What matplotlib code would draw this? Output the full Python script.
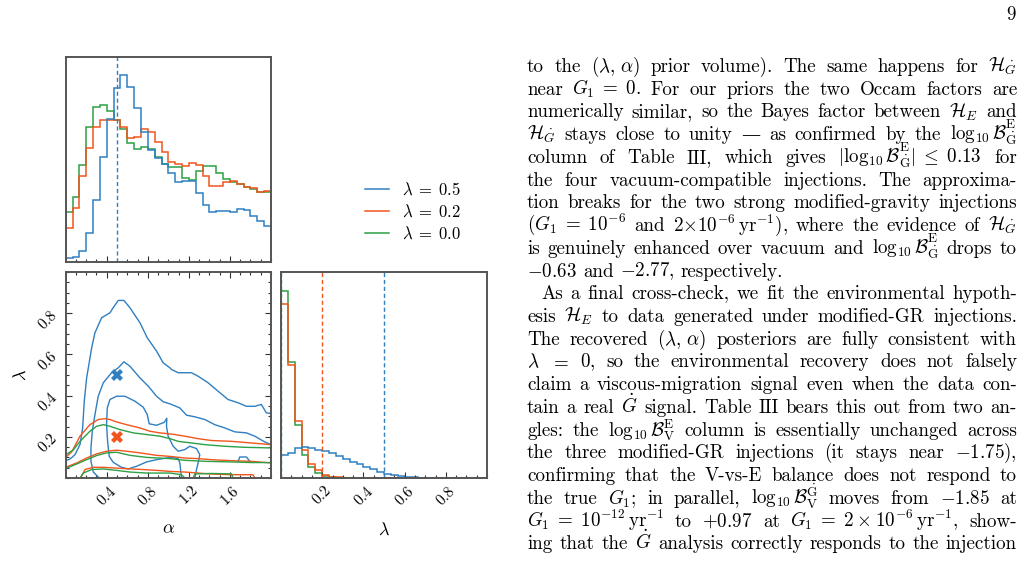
import numpy as np
import matplotlib
matplotlib.use("Agg")
import matplotlib.pyplot as plt
from matplotlib.ticker import FixedLocator, MultipleLocator, NullLocator
from matplotlib.lines import Line2D

plt.rcParams['mathtext.fontset'] = 'cm'
plt.rcParams['font.family'] = ['cmr10', 'DejaVu Serif']
plt.rcParams['axes.formatter.use_mathtext'] = True
plt.rcParams['axes.unicode_minus'] = False

# ---------------- data ----------------
series_labels = [r'$\lambda\;=\;0.5$', r'$\lambda\;=\;0.2$', r'$\lambda\;=\;0.0$']
series_colors = ['#2f7fc1', '#f0561d', '#2ca045']
true_alpha = [0.5, 0.5, 0.5]
true_lambda = [0.5, 0.2, 0.0]

alpha_range = (0.0, 2.0)
lambda_range = (0.0, 1.0)

alpha_hist_blue = [11, 14, 34, 86, 186, 314, 429, 520, 559, 523, 461, 388, 335, 310, 294,
                   266, 239, 244, 244, 208, 170, 151, 153, 153, 151, 160, 156, 139, 123, 108]
alpha_hist_orange = [103, 161, 258, 341, 403, 426, 424, 424, 403, 371, 373, 398, 390, 358, 328,
                     301, 294, 288, 296, 291, 258, 228, 228, 241, 244, 234, 226, 221, 209, 213]
alpha_hist_green = [151, 194, 291, 403, 464, 471, 451, 424, 397, 355, 339, 345, 337, 314, 294,
                    286, 284, 251, 246, 274, 289, 288, 266, 249, 241, 233, 224, 219, 211, 211]

lambda_hist_blue = [68, 74, 91, 93, 89, 85, 80, 75, 66, 58, 48, 41, 33, 26, 18,
                    13, 10, 6, 4, 2, 1, 1, 0, 0, 0, 0, 0, 0, 0, 0]
lambda_hist_orange = [520, 338, 171, 85, 42, 23, 8, 4, 2, 1, 0, 0, 0, 0, 0,
                      0, 0, 0, 0, 0, 0, 0, 0, 0, 0, 0, 0, 0, 0, 0]
lambda_hist_green = [560, 348, 158, 70, 33, 16, 5, 2, 1, 0, 0, 0, 0, 0, 0,
                     0, 0, 0, 0, 0, 0, 0, 0, 0, 0, 0, 0, 0, 0, 0]

alpha_ticks = [0.4, 0.8, 1.2, 1.6]
lambda_ticks = [0.2, 0.4, 0.6, 0.8]

# 2D contour lines (alpha, lambda)
blue_contours = [
    [(0.0, 0.084), (0.042, 0.092), (0.09, 0.113), (0.139, 0.162), (0.165, 0.243), (0.181, 0.373),
     (0.204, 0.486), (0.253, 0.632), (0.285, 0.705), (0.35, 0.778), (0.431, 0.802), (0.463, 0.827),
     (0.512, 0.862), (0.567, 0.862), (0.625, 0.827), (0.723, 0.754), (0.794, 0.681), (0.885, 0.616),
     (0.95, 0.559), (1.015, 0.535), (1.03, 0.527), (1.096, 0.511), (1.225, 0.511), (1.29, 0.494),
     (1.388, 0.462), (1.485, 0.421), (1.582, 0.381), (1.68, 0.365), (1.761, 0.348), (1.842, 0.348),
     (1.906, 0.357), (1.955, 0.316), (2.0, 0.313)],
    [(0.327, 0.0), (0.269, 0.029), (0.246, 0.081), (0.246, 0.146), (0.259, 0.227), (0.285, 0.308),
     (0.317, 0.397), (0.366, 0.462), (0.447, 0.511), (0.512, 0.535), (0.567, 0.564), (0.625, 0.543),
     (0.723, 0.486), (0.804, 0.446), (0.885, 0.397), (0.95, 0.37), (1.015, 0.36), (1.031, 0.357),
     (1.112, 0.34), (1.177, 0.305), (1.258, 0.297), (1.355, 0.284), (1.452, 0.259), (1.55, 0.243),
     (1.647, 0.224), (1.761, 0.219), (1.842, 0.203), (1.939, 0.175), (2.0, 0.162)],
    [(1.128, 0.0), (1.112, 0.073), (1.096, 0.094), (1.031, 0.1), (0.982, 0.097), (0.885, 0.089),
     (0.788, 0.078), (0.69, 0.057), (0.609, 0.044), (0.544, 0.052), (0.463, 0.076), (0.424, 0.105),
     (0.408, 0.178), (0.398, 0.259), (0.405, 0.34), (0.431, 0.381), (0.496, 0.397), (0.577, 0.397),
     (0.674, 0.373), (0.755, 0.344), (0.794, 0.308), (0.814, 0.263), (0.885, 0.256), (0.96, 0.27),
     (0.985, 0.29), (0.982, 0.251), (0.998, 0.203), (1.047, 0.154), (1.096, 0.13), (1.16, 0.138),
     (1.209, 0.154), (1.274, 0.143), (1.306, 0.113), (1.29, 0.073), (1.274, 0.041), (1.258, 0.0)],
    [(1.68, 0.081), (1.696, 0.102), (1.761, 0.102), (1.793, 0.081)],
]
orange_contours = [
    [(0.0, 0.10), (0.06, 0.128), (0.139, 0.203), (0.236, 0.259), (0.318, 0.284), (0.382, 0.288),
     (0.431, 0.284), (0.496, 0.272), (0.593, 0.259), (0.723, 0.243), (0.82, 0.227), (0.917, 0.219),
     (1.015, 0.214), (1.063, 0.211), (1.16, 0.203), (1.29, 0.191), (1.42, 0.182), (1.615, 0.178),
     (1.81, 0.17), (2.0, 0.162)],
    [(0.0, 0.052), (0.107, 0.073), (0.204, 0.097), (0.301, 0.117), (0.399, 0.13), (0.496, 0.135),
     (0.593, 0.13), (0.723, 0.122), (0.885, 0.11), (1.015, 0.105), (1.16, 0.097), (1.29, 0.094),
     (1.42, 0.089), (1.615, 0.084), (1.81, 0.081), (2.0, 0.073)],
    [(0.146, 0.0), (0.188, 0.041), (0.269, 0.052), (0.366, 0.052), (0.463, 0.049), (0.593, 0.045),
     (0.755, 0.041), (0.917, 0.036), (1.015, 0.032), (1.16, 0.029), (1.29, 0.024), (1.42, 0.019),
     (1.615, 0.016), (1.825, 0.016), (1.842, 0.0)],
]
green_contours = [
    [(0.0, 0.113), (0.074, 0.136), (0.139, 0.178), (0.236, 0.227), (0.301, 0.251), (0.366, 0.259),
     (0.431, 0.251), (0.528, 0.235), (0.658, 0.219), (0.788, 0.211), (0.917, 0.203), (1.015, 0.191),
     (1.096, 0.178), (1.225, 0.17), (1.355, 0.162), (1.549, 0.154), (1.744, 0.149), (2.0, 0.146)],
    [(0.0, 0.046), (0.107, 0.068), (0.204, 0.089), (0.301, 0.109), (0.399, 0.122), (0.496, 0.125),
     (0.625, 0.11), (0.788, 0.1), (1.015, 0.094), (1.16, 0.086), (1.355, 0.081), (1.615, 0.078),
     (1.81, 0.075), (2.0, 0.075)],
    [(0.139, 0.0), (0.172, 0.024), (0.253, 0.041), (0.366, 0.044), (0.496, 0.037), (0.625, 0.029),
     (0.788, 0.024), (1.015, 0.024), (1.128, 0.016), (1.16, 0.0)],
    [(1.242, 0.0), (1.258, 0.02), (1.42, 0.022), (1.615, 0.02), (1.63, 0.0)],
]

page_number = "9"
body_lines = [
    r"to the $(\lambda,\,\alpha)$ prior volume). The same happens for $\mathcal{H}_{\dot{G}}$",
    r"near $G_1\;=\;0$. For our priors the two Occam factors are",
    r"numerically similar, so the Bayes factor between $\mathcal{H}_E$ and",
    r"$\mathcal{H}_{\dot{G}}$ stays close to unity — as confirmed by the $\log_{10}\mathcal{B}^{\mathrm{E}}_{\dot{\mathrm{G}}}$",
    r"column of Table III, which gives $|\log_{10}\mathcal{B}^{\mathrm{E}}_{\dot{\mathrm{G}}}|\;\leq\;0.13$ for",
    r"the four vacuum-compatible injections. The approxima-",
    r"tion breaks for the two strong modified-gravity injections",
    r"$(G_1\;=\;10^{-6}$ and $2{\times}10^{-6}\,\mathrm{yr}^{-1})$, where the evidence of $\mathcal{H}_{\dot{G}}$",
    r"is genuinely enhanced over vacuum and $\log_{10}\mathcal{B}^{\mathrm{E}}_{\dot{\mathrm{G}}}$ drops to",
    r"$-0.63$ and $-2.77$, respectively.",
    r"As a final cross-check, we fit the environmental hypoth-",
    r"esis $\mathcal{H}_E$ to data generated under modified-GR injections.",
    r"The recovered $(\lambda,\,\alpha)$ posteriors are fully consistent with",
    r"$\lambda$ $=$ $0$, so the environmental recovery does not falsely",
    r"claim a viscous-migration signal even when the data con-",
    r"tain a real $\dot{G}$ signal. Table III bears this out from two an-",
    r"gles: the $\log_{10}\mathcal{B}^{\mathrm{E}}_{\mathrm{V}}$ column is essentially unchanged across",
    r"the three modified-GR injections (it stays near $-1.75$),",
    r"confirming that the V-vs-E balance does not respond to",
    r"the true $G_1$; in parallel, $\log_{10}\mathcal{B}^{\dot{\mathrm{G}}}_{\mathrm{V}}$ moves from $-1.85$ at",
    r"$G_1\;=\;10^{-12}\,\mathrm{yr}^{-1}$ to $+0.97$ at $G_1\;=\;2\:\times\:10^{-6}\,\mathrm{yr}^{-1}$, show-",
    r"ing that the $\dot{G}$ analysis correctly responds to the injection",
]
indented_lines = [10]
ragged_lines = [9]

# ---------------- layout ----------------
W, H = 1024, 563
fig = plt.figure(figsize=(W / 100, H / 100), dpi=100)
fig.patch.set_facecolor('white')

def px_axes(x0, y0, x1, y1):
    return fig.add_axes([x0 / W, 1 - y1 / H, (x1 - x0) / W, (y1 - y0) / H])

ax_a = px_axes(65.7, 56.7, 271, 262)
ax_2d = px_axes(65.7, 272, 271, 478)
ax_l = px_axes(281, 272, 487, 478)

SPINE_C = '#555555'
TICK_FS = 11
LABEL_FS = 13
for ax in (ax_a, ax_2d, ax_l):
    for s in ax.spines.values():
        s.set_color(SPINE_C)
        s.set_linewidth(1.4)
    ax.tick_params(which='both', direction='in', color='#333333', labelsize=TICK_FS, width=0.8)
    ax.tick_params(which='major', length=4)
    ax.tick_params(which='minor', length=2.2)

a_edges = np.linspace(alpha_range[0], alpha_range[1], len(alpha_hist_blue) + 1)
l_edges = np.linspace(lambda_range[0], lambda_range[1], len(lambda_hist_blue) + 1)

# alpha marginal
a_hists = [alpha_hist_blue, alpha_hist_orange, alpha_hist_green]
for vals, c in zip(a_hists[::-1], series_colors[::-1]):
    ax_a.stairs(vals, a_edges, color=c, lw=1.1)
seen = set()
for ta, c in zip(true_alpha, series_colors):
    if ta in seen:
        continue
    seen.add(ta)
    ax_a.axvline(ta, color=c, lw=1.0, ls=(0, (3, 2)))
ax_a.set_xlim(*alpha_range)
ax_a.set_ylim(0, 1.1 * max(max(v) for v in a_hists))
ax_a.xaxis.set_major_locator(FixedLocator(alpha_ticks))
ax_a.xaxis.set_minor_locator(MultipleLocator(0.1))
ax_a.yaxis.set_major_locator(NullLocator())
ax_a.tick_params(labelbottom=False, labelleft=False)

# lambda marginal
l_hists = [lambda_hist_blue, lambda_hist_orange, lambda_hist_green]
for vals, c in zip(l_hists[::-1], series_colors[::-1]):
    ax_l.stairs(vals, l_edges, color=c, lw=1.1)
for tl, c in zip(true_lambda, series_colors):
    ax_l.axvline(tl, color=c, lw=1.0, ls=(0, (3, 2)))
ax_l.set_xlim(*lambda_range)
ax_l.set_ylim(0, 1.1 * max(max(v) for v in l_hists))
ax_l.xaxis.set_major_locator(FixedLocator(lambda_ticks))
ax_l.xaxis.set_minor_locator(MultipleLocator(0.05))
ax_l.yaxis.set_major_locator(NullLocator())
ax_l.tick_params(axis='x', labelrotation=45)
ax_l.set_xlabel(r'$\lambda$', fontsize=LABEL_FS)
ax_l.xaxis.set_label_coords(0.5, -0.21)

# 2D
for conts, c in zip([blue_contours, orange_contours, green_contours], series_colors):
    for path in conts:
        arr = np.array(path)
        ax_2d.plot(arr[:, 0], arr[:, 1], color=c, lw=1.0)
for ta, tl, c in zip(true_alpha, true_lambda, series_colors):
    if tl > lambda_range[0]:
        ax_2d.plot([ta], [tl], marker='X', color=c, ms=8, mew=0)
ax_2d.set_xlim(*alpha_range)
ax_2d.set_ylim(*lambda_range)
ax_2d.xaxis.set_major_locator(FixedLocator(alpha_ticks))
ax_2d.xaxis.set_minor_locator(MultipleLocator(0.1))
ax_2d.yaxis.set_major_locator(FixedLocator(lambda_ticks))
ax_2d.yaxis.set_minor_locator(MultipleLocator(0.05))
ax_2d.tick_params(which='both', top=True, right=True)
ax_2d.tick_params(axis='both', labelrotation=45)
ax_2d.set_xlabel(r'$\alpha$', fontsize=LABEL_FS)
ax_2d.xaxis.set_label_coords(0.5, -0.21)
ax_2d.set_ylabel(r'$\lambda$', fontsize=LABEL_FS)
ax_2d.yaxis.set_label_coords(-0.18, 0.5)

# legend
handles = [Line2D([], [], color=c, lw=1.1) for c in series_colors]
fig.legend(handles, series_labels, loc='upper left', bbox_to_anchor=(365 / W, 1 - 181 / H),
           frameon=False, fontsize=12, handlelength=1.45, handletextpad=0.75, labelspacing=0.35,
           borderaxespad=0, borderpad=0)

# ---------------- body text ----------------
FS_TEXT = 13.7
TEXT_LEFT, TEXT_RIGHT = 527.0, 1017.0
TEXT_TOP, LINE_SKIP = 72.0, 22.73
PAR_INDENT = 14.0

def split_tokens(s):
    toks, cur, inmath = [], '', False
    for ch in s:
        if ch == '$':
            inmath = not inmath
        if ch == ' ' and not inmath:
            if cur:
                toks.append(cur)
            cur = ''
        else:
            cur += ch
    if cur:
        toks.append(cur)
    return toks

renderer = fig.canvas.get_renderer()
natural_gap = 0.333 * FS_TEXT * 100 / 72
for i, line in enumerate(body_lines):
    ybase = TEXT_TOP + i * LINE_SKIP
    x0 = TEXT_LEFT + (PAR_INDENT if i in indented_lines else 0)
    toks = split_tokens(line)
    arts = [fig.text(0, 0, t, fontsize=FS_TEXT, ha='left', va='baseline') for t in toks]
    ws = [a.get_window_extent(renderer).width for a in arts]
    if i in ragged_lines or len(toks) < 2:
        gap = natural_gap
    else:
        gap = max(2.0, (TEXT_RIGHT - x0 - sum(ws)) / (len(toks) - 1))
    x = x0
    for a, w in zip(arts, ws):
        a.set_position((x / W, 1 - ybase / H))
        x += w + gap

fig.text(1016 / W, 1 - 20 / H, page_number, fontsize=FS_TEXT, ha='right', va='baseline')

fig.savefig('out.png', dpi=100, facecolor='white')
